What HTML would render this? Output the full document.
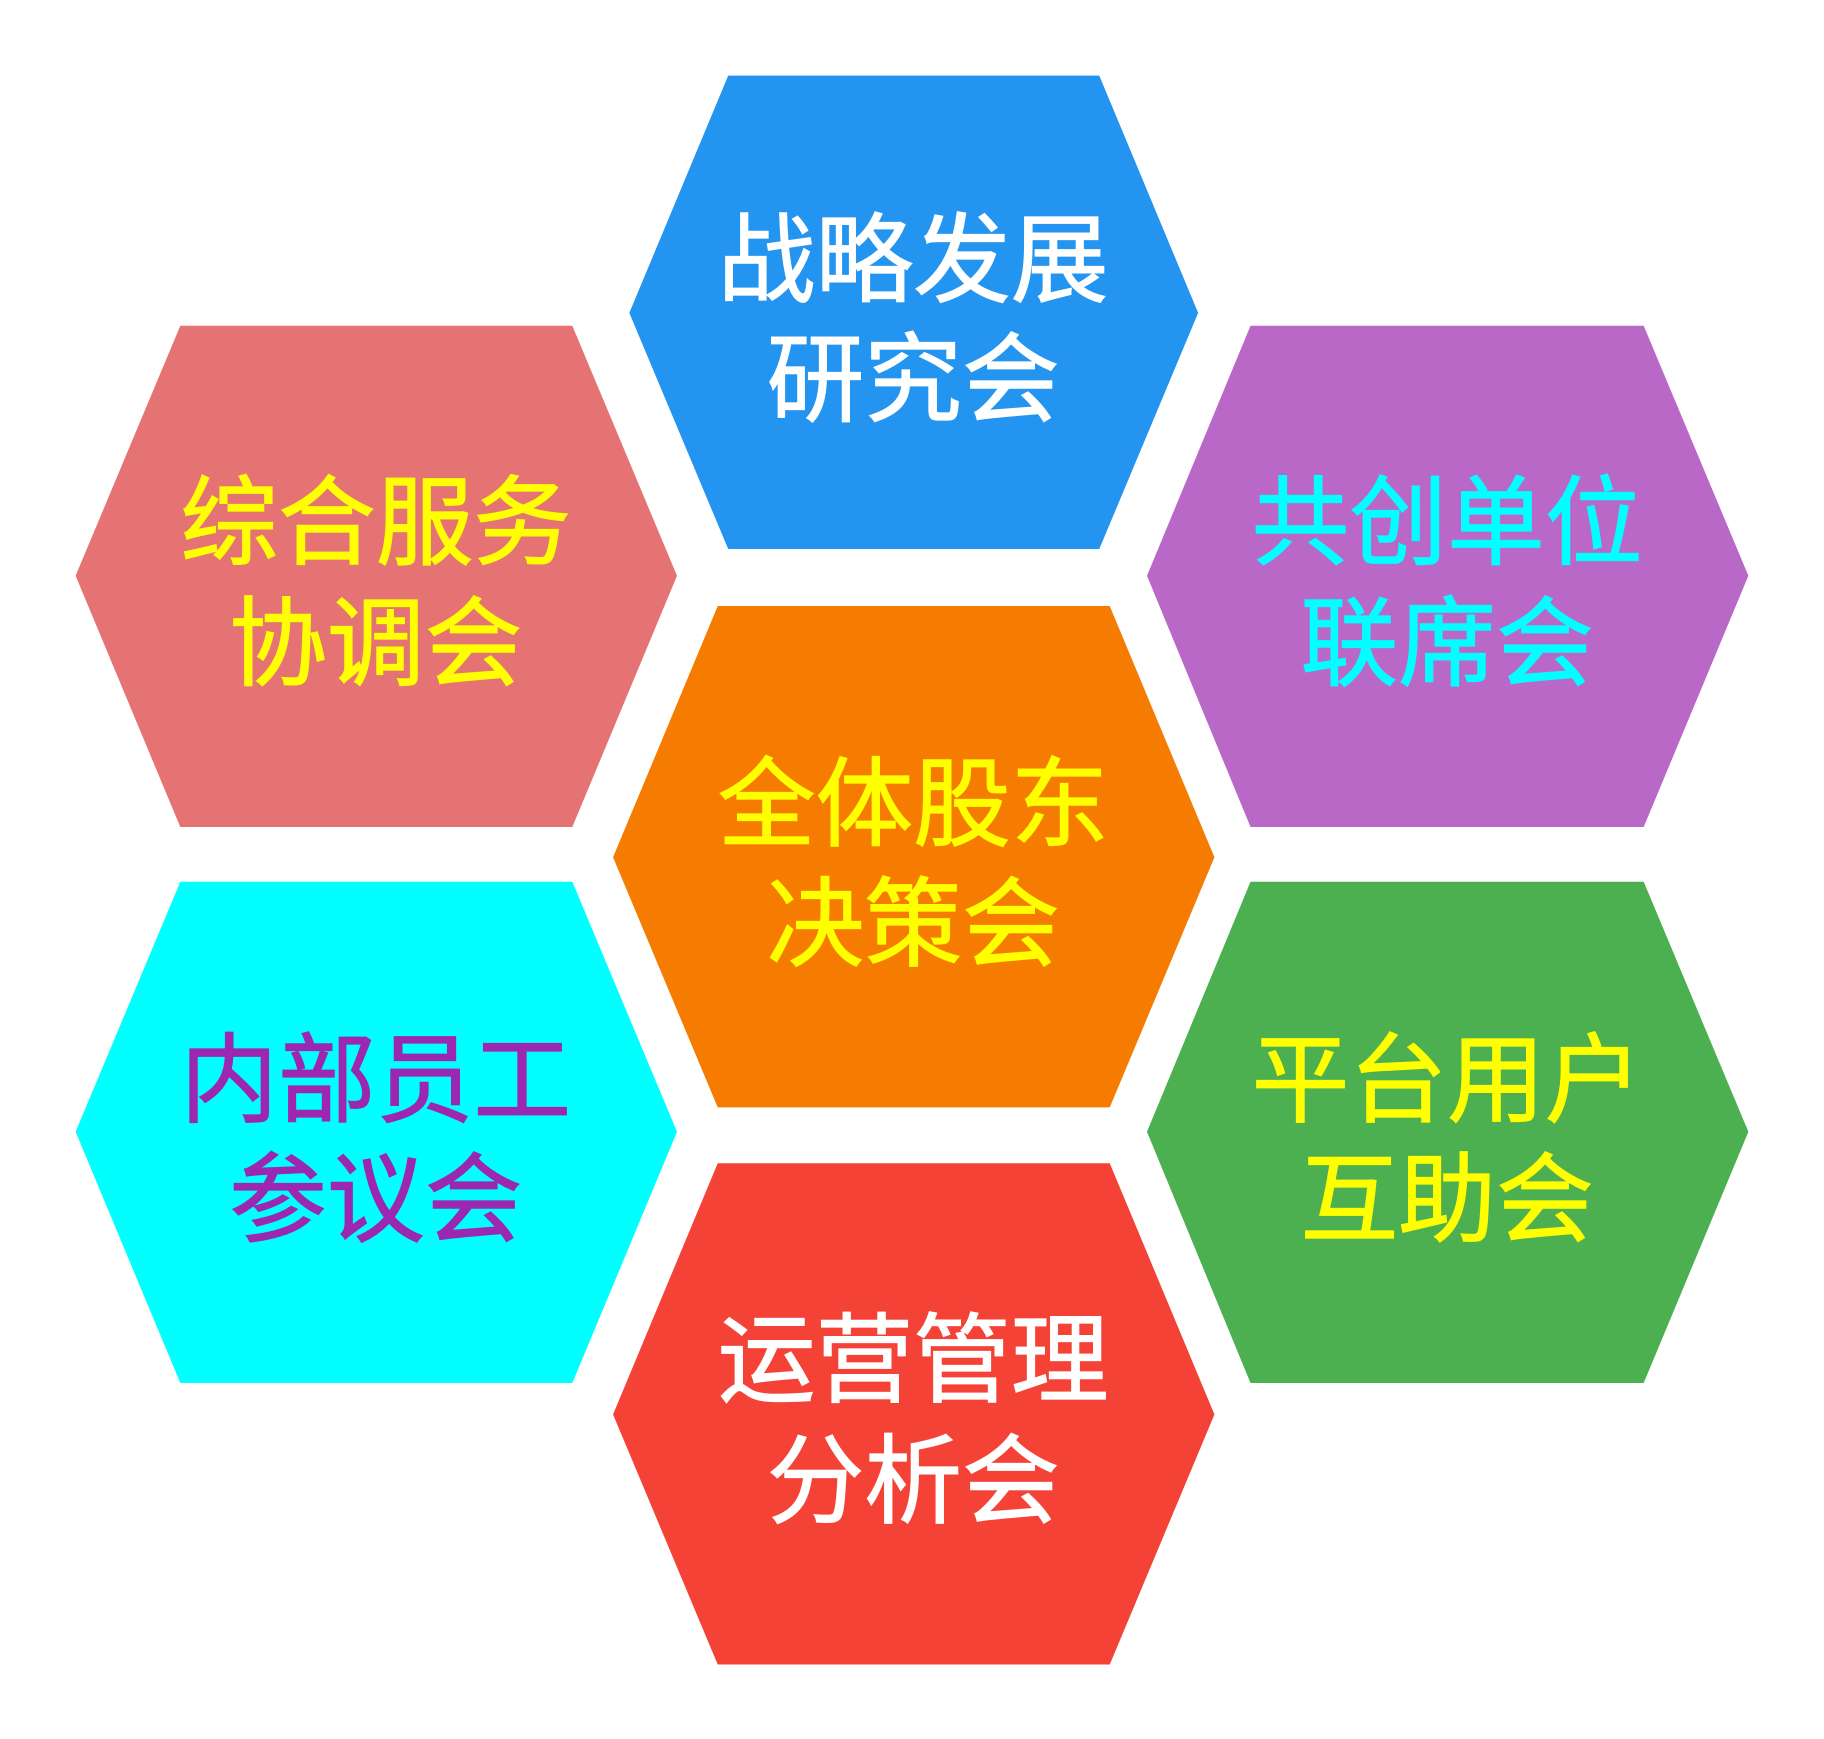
<!DOCTYPE html>
<html><head><meta charset="utf-8"><style>
html,body{margin:0;padding:0;background:#fff;}
svg{display:block;}
text{font-family:"Liberation Sans","Noto Sans CJK SC",sans-serif;font-size:84px;text-anchor:middle;stroke-width:1;}
</style></head><body>
<svg width="1824" height="1739" viewBox="0 0 1568 1495" preserveAspectRatio="none">
<polygon points="626,65 945,65 1030,269 945,472 626,472 541,269" fill="#2394F0"/>
<polygon points="155,280 492,280 582,495 492,711 155,711 65,495" fill="#E57373"/>
<polygon points="1075,280 1413,280 1503,495 1413,711 1075,711 986,495" fill="#BA68C8"/>
<polygon points="617,521 954,521 1044,737 954,952 617,952 527,737" fill="#F57C00"/>
<polygon points="155,758 492,758 582,973 492,1189 155,1189 65,973" fill="#00FFFF"/>
<polygon points="1075,758 1413,758 1503,973 1413,1189 1075,1189 986,973" fill="#4CAF50"/>
<polygon points="617,1000 954,1000 1044,1216 954,1431 617,1431 527,1216" fill="#F44336"/>
<text x="785" y="253" fill="#fff" stroke="#fff">战略发展</text>
<text x="785" y="356" fill="#fff" stroke="#fff">研究会</text>
<text x="323" y="479" fill="#FFFF00" stroke="#FFFF00">综合服务</text>
<text x="323" y="583" fill="#FFFF00" stroke="#FFFF00">协调会</text>
<text x="1244" y="479" fill="#00FFFF" stroke="#00FFFF">共创单位</text>
<text x="1244" y="583" fill="#00FFFF" stroke="#00FFFF">联席会</text>
<text x="785" y="721" fill="#FFFF00" stroke="#FFFF00">全体股东</text>
<text x="785" y="824" fill="#FFFF00" stroke="#FFFF00">决策会</text>
<text x="323" y="958" fill="#9C27B0" stroke="#9C27B0">内部员工</text>
<text x="323" y="1061" fill="#9C27B0" stroke="#9C27B0">参议会</text>
<text x="1244" y="958" fill="#FFFF00" stroke="#FFFF00">平台用户</text>
<text x="1244" y="1061" fill="#FFFF00" stroke="#FFFF00">互助会</text>
<text x="785" y="1199" fill="#fff" stroke="#fff">运营管理</text>
<text x="785" y="1303" fill="#fff" stroke="#fff">分析会</text>
</svg>
</body></html>
